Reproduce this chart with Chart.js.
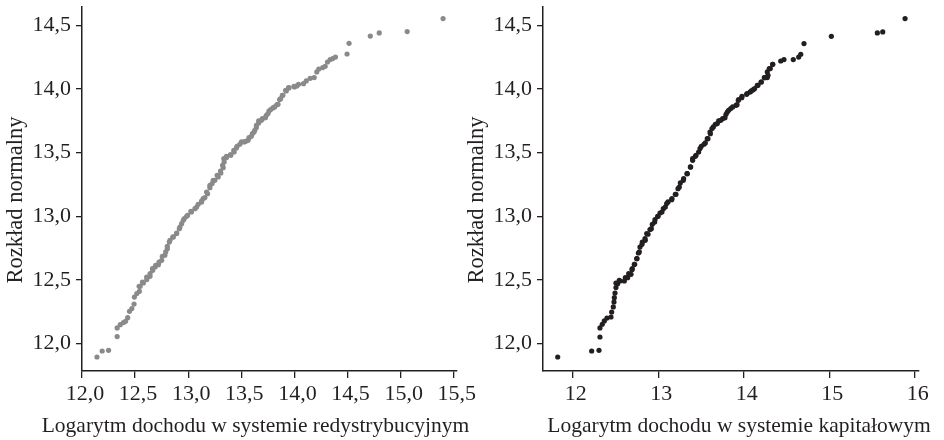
<!DOCTYPE html>
<html>
<head>
<meta charset="utf-8">
<script src="https://cdn.jsdelivr.net/npm/chart.js@4.4.1/dist/chart.umd.min.js"></script>
<style>
    body { margin: 0; background: #fff; }
    #wrap { position: relative; width: 944px; height: 440px; overflow: hidden; }
    .box { position: absolute; top: 0; height: 440px; }
    .axis-title {
        position: absolute;
        font-family: 'Liberation Serif', 'Times New Roman', serif;
        font-size: 21.5px;
        line-height: 21.5px;
        color: #231f20;
        text-align: center;
        white-space: nowrap;
    }
    .rot { width: 300px; height: 22px; font-size: 22.5px; line-height: 22px; transform: rotate(-90deg); }
</style>
</head>
<body>
<div id="wrap">
    <div class="box" style="left:0; width:490px"><canvas id="chart-red" width="490" height="440"></canvas></div>
    <div class="box" style="left:472px; width:472px"><canvas id="chart-cap" width="472" height="440"></canvas></div>

    <div class="axis-title" style="left:0; width:511px; top:415px">Logarytm dochodu w systemie redystrybucyjnym</div>
    <div class="axis-title" style="left:539px; width:400px; top:415px">Logarytm dochodu w systemie kapitałowym</div>
    <div class="axis-title rot" style="left:-135px; top:189px">Rozkład normalny</div>
    <div class="axis-title rot" style="left:326px; top:189px">Rozkład normalny</div>
</div>

<script>
// Data: sample quantiles (x) vs normal quantiles (y)
// first block: whole curve, second block: extra reads along the dense middle part
const redX = [
    12.141, 12.190, 12.250, 12.331, 12.331, 12.360, 12.390, 12.410, 12.430, 12.447,
    12.469, 12.490, 12.493, 12.516, 12.540, 12.547, 12.578, 12.610, 12.640, 12.666,
    12.688, 12.719, 12.750, 12.780, 12.803, 12.822, 12.854, 12.891, 12.922, 12.953,
    12.985, 13.030, 13.079, 13.126, 13.141, 13.173, 13.204, 13.235, 13.272, 13.304,
    13.323, 13.335, 13.360, 13.398, 13.429, 13.460, 13.501, 13.541, 13.572, 13.604,
    13.626, 13.642, 13.663, 13.698, 13.735, 13.760, 13.797, 13.835, 13.860, 13.886,
    13.917, 13.948, 14.000, 14.022, 14.085, 14.111, 14.148, 14.186, 14.210, 14.229,
    14.266, 14.289, 14.311, 14.336, 14.360, 14.386, 14.495, 14.514, 14.714, 14.798,
    15.061, 15.399,
    12.538, 12.569, 12.609, 12.641, 12.663, 12.694, 12.725, 12.756, 12.788, 12.803,
    12.828, 12.860, 12.891, 12.916, 12.938, 12.963, 12.994, 13.025, 13.063, 13.094,
    13.125, 13.157, 13.182, 13.204, 13.225, 13.250, 13.282, 13.307, 13.329, 13.338,
    13.360, 13.401, 13.432, 13.454, 13.485, 13.526, 13.563, 13.594, 13.619, 13.641,
    13.663, 13.688, 13.726, 13.751, 13.776, 13.813, 13.845, 13.870, 13.891, 13.923,
    13.945, 13.995, 14.038
];
const redY = [
    11.895, 11.942, 11.947, 12.055, 12.123, 12.149, 12.165, 12.175, 12.204, 12.254,
    12.275, 12.311, 12.366, 12.393, 12.411, 12.450, 12.476, 12.503, 12.529, 12.576,
    12.602, 12.620, 12.654, 12.694, 12.746, 12.798, 12.837, 12.864, 12.916, 12.969,
    13.000, 13.034, 13.073, 13.112, 13.139, 13.191, 13.244, 13.283, 13.322, 13.356,
    13.401, 13.453, 13.471, 13.485, 13.518, 13.550, 13.584, 13.589, 13.618, 13.650,
    13.676, 13.715, 13.749, 13.767, 13.793, 13.827, 13.851, 13.877, 13.917, 13.951,
    13.990, 14.008, 14.016, 14.024, 14.042, 14.063, 14.084, 14.090, 14.134, 14.157,
    14.168, 14.178, 14.212, 14.231, 14.239, 14.251, 14.275, 14.359, 14.416, 14.440,
    14.451, 14.553,
    12.450, 12.484, 12.523, 12.550, 12.589, 12.615, 12.641, 12.686, 12.720, 12.764,
    12.811, 12.838, 12.869, 12.903, 12.942, 12.982, 13.008, 13.039, 13.060, 13.094,
    13.120, 13.147, 13.178, 13.225, 13.257, 13.283, 13.309, 13.340, 13.382, 13.427,
    13.461, 13.479, 13.505, 13.537, 13.566, 13.584, 13.597, 13.628, 13.662, 13.697,
    13.733, 13.754, 13.775, 13.807, 13.838, 13.859, 13.880, 13.924, 13.951, 13.985,
    14.011, 14.021, 14.037
];

const capX = [
    11.825, 12.222, 12.308, 12.319, 12.319, 12.346, 12.370, 12.401, 12.448, 12.456,
    12.475, 12.483, 12.487, 12.495, 12.506, 12.526, 12.553, 12.604, 12.643, 12.682,
    12.697, 12.721, 12.749, 12.768, 12.787, 12.814, 12.846, 12.866, 12.904, 12.931,
    12.963, 12.994, 13.021, 13.060, 13.099, 13.158, 13.208, 13.247, 13.294, 13.340,
    13.380, 13.403, 13.442, 13.489, 13.535, 13.574, 13.606, 13.645, 13.691, 13.731,
    13.781, 13.808, 13.848, 13.910, 13.937, 13.977, 14.035, 14.074, 14.112, 14.159,
    14.203, 14.241, 14.276, 14.276, 14.299, 14.339, 14.433, 14.471, 14.580, 14.643,
    14.667, 14.705, 15.025, 15.563, 15.626, 15.887,
    12.506, 12.545, 12.616, 12.655, 12.694, 12.725, 12.752, 12.779, 12.811, 12.849,
    12.881, 12.920, 12.959, 12.998, 13.044, 13.083, 13.115, 13.161, 13.200, 13.232,
    13.259, 13.298, 13.337, 13.376, 13.403, 13.434, 13.473, 13.504, 13.551, 13.582,
    13.610, 13.629, 13.668, 13.707, 13.754, 13.793, 13.824, 13.871, 13.922, 13.941,
    13.980, 14.039, 14.089, 14.128, 14.167, 14.206, 14.245, 14.284, 14.311, 14.339
];
const capY = [
    11.895, 11.942, 11.947, 12.052, 12.123, 12.152, 12.178, 12.201, 12.209, 12.248,
    12.288, 12.327, 12.361, 12.397, 12.440, 12.471, 12.492, 12.492, 12.518, 12.544,
    12.589, 12.623, 12.668, 12.712, 12.759, 12.798, 12.825, 12.864, 12.896, 12.937,
    12.974, 13.000, 13.026, 13.060, 13.100, 13.131, 13.173, 13.230, 13.283, 13.335,
    13.387, 13.453, 13.479, 13.532, 13.566, 13.610, 13.662, 13.702, 13.728, 13.754,
    13.775, 13.819, 13.846, 13.872, 13.911, 13.932, 13.958, 13.976, 13.995, 14.029,
    14.055, 14.090, 14.090, 14.134, 14.160, 14.194, 14.220, 14.231, 14.231, 14.251,
    14.273, 14.357, 14.414, 14.440, 14.448, 14.553,
    12.476, 12.497, 12.518, 12.550, 12.581, 12.623, 12.667, 12.720, 12.780, 12.811,
    12.859, 12.903, 12.955, 13.000, 13.034, 13.073, 13.113, 13.139, 13.173, 13.217,
    13.262, 13.296, 13.335, 13.388, 13.440, 13.471, 13.505, 13.550, 13.576, 13.610,
    13.649, 13.689, 13.723, 13.749, 13.767, 13.801, 13.833, 13.859, 13.877, 13.917,
    13.943, 13.964, 13.985, 14.003, 14.029, 14.055, 14.089, 14.108, 14.160, 14.194
];

// Tick labels
const yTicks = [12.0, 12.5, 13.0, 13.5, 14.0, 14.5];
const redTicks = [12.0, 12.5, 13.0, 13.5, 14.0, 14.5, 15.0, 15.5];
const capTicks = [12, 13, 14, 15, 16];

const INK = '#231f20';
const FONT = { family: "'Liberation Serif', 'Times New Roman', serif", size: 22 };

function comma(v) {
    return v.toFixed(1).replace('.', ',');
}

function makeChart(canvas, xs, ys, color, cfg) {
    const points = xs.map((x, i) => ({ x: x, y: ys[i] }));
    return new Chart(canvas, {
        type: 'scatter',
        data: {
            datasets: [{
                data: points,
                backgroundColor: color,
                borderWidth: 0,
                pointRadius: 2.6,
                pointHoverRadius: 2.6
            }]
        },
        options: {
            responsive: false,
            animation: false,
            events: [],
            layout: { padding: { left: 0, top: 7, right: cfg.padRight, bottom: 0 } },
            plugins: { legend: { display: false }, tooltip: { enabled: false } },
            scales: {
                x: {
                    type: 'linear',
                    min: cfg.xMin,
                    max: cfg.xMax,
                    afterBuildTicks: s => { s.ticks = cfg.xTicks.map(v => ({ value: v })); },
                    afterFit: s => { s.height = 69; s.paddingLeft = 0; s.paddingRight = 0; },
                    grid: { display: true, drawOnChartArea: false, drawTicks: true, tickLength: 7, color: INK, lineWidth: 1.3 },
                    border: { display: true, color: INK, width: 1.5 },
                    ticks: { font: FONT, color: INK, padding: 3, labelOffset: 3, maxRotation: 0, callback: cfg.xFormat }
                },
                y: {
                    type: 'linear',
                    min: 11.785,
                    max: 14.644,
                    afterBuildTicks: s => { s.ticks = yTicks.map(v => ({ value: v })); },
                    afterFit: s => { s.width = cfg.yWidth; s.paddingTop = 0; s.paddingBottom = 0; },
                    grid: { display: true, drawOnChartArea: false, drawTicks: true, tickLength: 6, color: INK, lineWidth: 1.3 },
                    border: { display: true, color: INK, width: 1.5 },
                    ticks: { font: FONT, color: INK, padding: 5, callback: v => comma(v) }
                }
            }
        }
    });
}

makeChart(document.getElementById('chart-red'), redX, redY, '#8a8a8a', {
    xMin: 12.0, xMax: 15.53, xTicks: redTicks, xFormat: v => comma(v),
    yWidth: 82, padRight: 33
});

makeChart(document.getElementById('chart-cap'), capX, capY, '#231f20', {
    xMin: 11.653, xMax: 16.05, xTicks: capTicks, xFormat: v => String(v),
    yWidth: 71, padRight: 25
});
</script>
</body>
</html>
